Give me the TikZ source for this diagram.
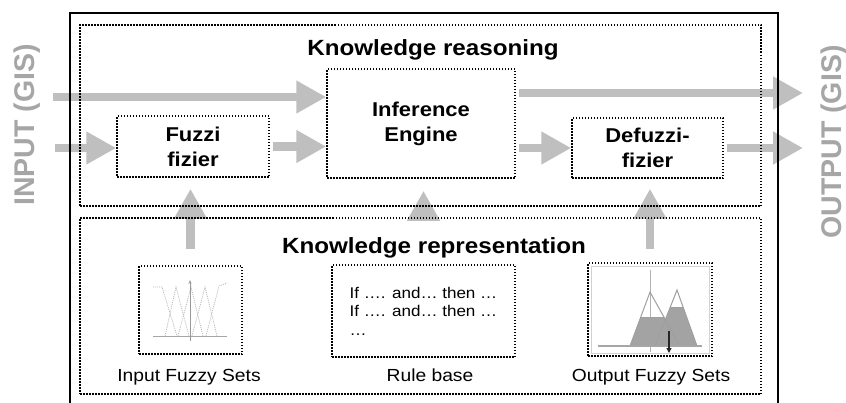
\documentclass[tikz,border=0pt]{standalone}
\usepackage{fontspec}
\setmainfont{Liberation Sans}[FakeStretch=1.1]
\newfontfamily\sidefont{Liberation Sans}
\usetikzlibrary{positioning,arrows.meta,calc}

\begin{document}
\begin{tikzpicture}[
  x=1pt, y=-1pt,
  region/.style ={draw=black,line width=1.5pt,dash pattern=on 1.5pt off 1.5pt,inner sep=0pt},
  block/.style  ={draw=black,line width=1.5pt,dash pattern=on 1.5pt off 1.5pt,inner sep=0pt,
                  align=center,font=\bfseries\fontsize{20}{25}\selectfont},
  fat/.style    ={draw=gray!50,line width=8.5pt,-{Triangle[length=30pt,width=31pt]}},
  side/.style   ={rotate=90,text=gray!70,font=\sidefont\bfseries\fontsize{28.5}{30}\selectfont},
  heading/.style={anchor=base,font=\bfseries\fontsize{22}{26}\selectfont},
  caption/.style={anchor=base,font=\fontsize{17.5}{20}\selectfont},
  mfun/.style   ={draw=gray!60,line width=0.7pt,dash pattern=on 1pt off 1pt}]
\clip (0,0) rectangle (846,402);
% --- Processing blocks ---
\node[block,minimum width=152pt,minimum height=61pt]  (fuzz)   at (193,146.5) {Fuzzi\\fizier};
\node[block,minimum width=188pt,minimum height=109pt] (infer)  at (421,123.5) {Inference\\Engine};
\node[block,minimum width=151pt,minimum height=60pt]  (defuzz) at (647.5,148) {Defuzzi-\\fizier};
% --- Knowledge base items ---
\node[region,minimum width=103pt,minimum height=88pt] (inset)  at (190.5,310) {};
\node[region,minimum width=183pt,minimum height=92pt,align=left,
      font=\fontsize{15.5}{18.5}\selectfont]          (rules)  at (423.5,311)
  {If …. and… then …\\If …. and… then …\\…};
\node[region,line width=1.2pt,minimum width=124pt,minimum height=93pt] (outset) at (650,309.5) {};
\node[caption] (insetcap)  at (189,381) {Input Fuzzy Sets};
\node[caption] (rulescap)  at (430,381) {Rule base};
\node[caption] (outsetcap) at (651,381) {Output Fuzzy Sets};
% input membership functions
\draw[gray!70,line width=0.8pt] (153,336) -- (227,336);
\draw[mfun] (153,287) -- (162,287) -- (177,336);
\draw[mfun] (165,336) -- (176,287) -- (189,336);
\draw[mfun] (178,336) -- (191,287) -- (203,336);
\draw[mfun] (192,336) -- (205,287) -- (217,336);
\draw[mfun] (206,336) -- (219,286) -- (227,283);
\draw[gray!80,line width=0.8pt,-{Stealth[length=4pt,width=3pt]}] (190,341) -- (190,280);
% output fuzzy set and its centroid
\draw[gray!35,line width=0.8pt] (591,266) rectangle (709,353);
\draw[gray!60,line width=0.8pt] (650,270) -- (650,352);
\fill[gray!72] (630,346) -- (640.7,317) -- (663.9,317) -- (665.4,319.7)
  -- (670.3,307) -- (683,307) -- (697,346) -- cycle;
\draw[gray!75,line width=1pt] (630,346) -- (650,292) -- (680,346);
\draw[gray!75,line width=1pt] (655,346) -- (677,290) -- (697,346);
\draw[gray!75,line width=1pt] (640.7,317) -- (663.9,317);
\draw[gray!75,line width=1pt] (670.3,307) -- (683,307);
\draw[gray!70,line width=1.6pt] (598,346) -- (702,346);
\draw[gray!30!black,line width=1.5pt,-{Triangle[length=5pt,width=5pt]}] (669,331) -- (669,353);
% --- Data flow ---
\coordinate (inA)  at (53,97);
\coordinate (inB)  at (55,148);
\coordinate (outA) at (803,93);
\coordinate (outB) at (803,148);
\draw[fat] (inA) -- (inA -| infer.west);
\draw[fat] (inB) -- (inB -| fuzz.west);
\draw[fat,shorten <=3pt] (fuzz.east) -- (fuzz.east -| infer.west);
\draw[fat,shorten <=3pt] (infer.east |- outA) -- (outA);
\draw[fat,shorten <=3pt] (infer.east |- defuzz.west) -- (defuzz.west);
\draw[fat,shorten <=3pt] (defuzz.east) -- (outB);
\draw[fat,shorten <=16pt,shorten >=11pt] (inset.north)  -- (inset.north |- fuzz.south);
\draw[fat,shorten <=46pt,shorten >=12pt] (rules.north)  -- (rules.north |- infer.south);
\draw[fat,shorten <=13pt,shorten >=10pt] (outset.north) -- (outset.north |- defuzz.south);
% --- Two knowledge layers inside the system frame ---
\node[region,minimum width=681pt,minimum height=181pt] (reason) at (420.5,115.5) {};
\node[region,minimum width=681pt,minimum height=176pt] (repr)   at (420.5,306) {};
\node[heading] (reasontitle) at (433,55)  {Knowledge reasoning};
\node[heading] (reprtitle)   at (434,253) {Knowledge representation};
\draw[line width=2.4pt] (70,13) rectangle (778,420);
% --- Inputs and outputs ---
\node[side] (inlab)  at (27,125)  {INPUT (GIS)};
\node[side] (outlab) at (834,142) {OUTPUT (GIS)};
\end{tikzpicture}
\end{document}
